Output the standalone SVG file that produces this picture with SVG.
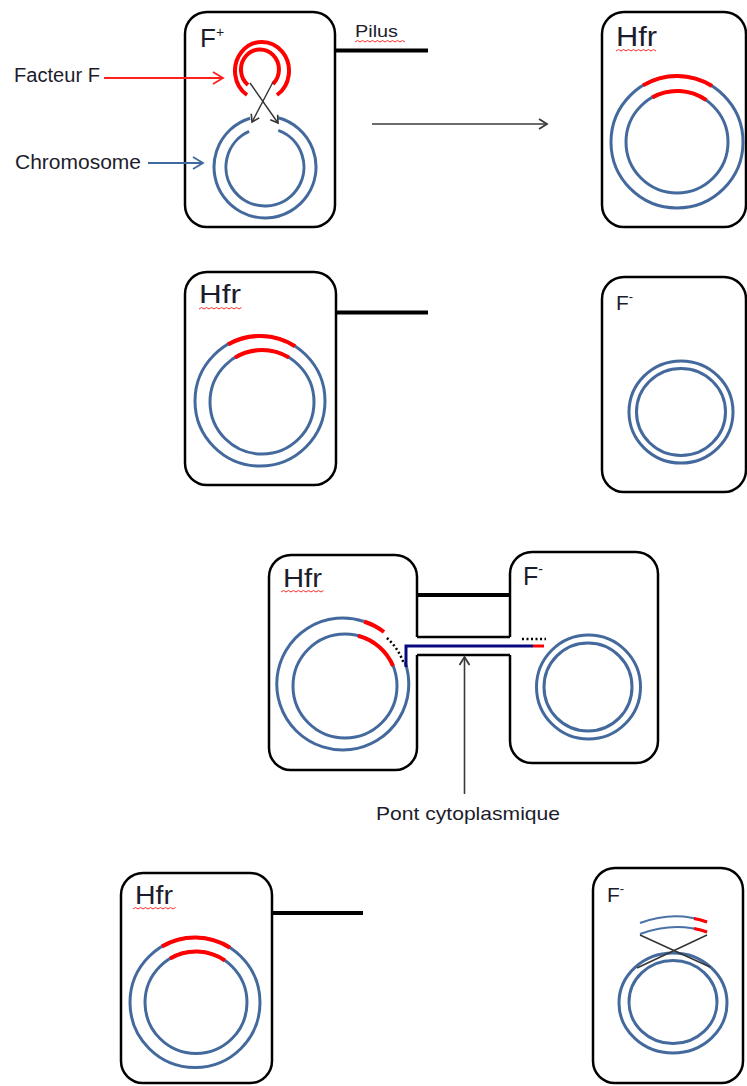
<svg xmlns="http://www.w3.org/2000/svg" width="747" height="1086" viewBox="0 0 747 1086">
  <defs>
    <style>
      .cell { fill: #ffffff; stroke: #000000; stroke-width: 2.5; }
      .edge { fill: none; stroke: #000000; stroke-width: 2.5; stroke-linejoin: round; }
      .pilus { stroke: #000000; stroke-width: 4; }
      .dna { fill: none; stroke: #44699d; stroke-width: 3; }
      .dna-thin { fill: none; stroke: #4a72a6; stroke-width: 2; }
      .fseg { fill: none; stroke: #ff0000; stroke-width: 4; }
      .fseg-thin { fill: none; stroke: #ff0000; stroke-width: 3; }
      .squiggle { fill: none; stroke: #ff2a2a; stroke-width: 1; }
      .lbl { font-family: "Liberation Sans", Arial, sans-serif; fill: #1c1c2c; }
      .dots { fill: none; stroke: #000000; stroke-width: 2.5; stroke-dasharray: 2 2.5; }
      .cross { fill: none; stroke: #333333; stroke-width: 1.4; }
    </style>
    <marker id="headRed" markerUnits="userSpaceOnUse" markerWidth="12" markerHeight="14" refX="10" refY="6" orient="auto" overflow="visible">
      <path d="M0,0 L10,6 L0,12" fill="none" stroke="#ff2020" stroke-width="1.8"/>
    </marker>
    <marker id="headBlue" markerUnits="userSpaceOnUse" markerWidth="12" markerHeight="14" refX="10" refY="6" orient="auto" overflow="visible">
      <path d="M0,0 L10,6 L0,12" fill="none" stroke="#3e6aa2" stroke-width="1.8"/>
    </marker>
    <marker id="headGray" markerUnits="userSpaceOnUse" markerWidth="10" markerHeight="12" refX="8" refY="5" orient="auto" overflow="visible">
      <path d="M0,0 L8,5 L0,10" fill="none" stroke="#3a3a3a" stroke-width="1.8"/>
    </marker>
    <marker id="headDark" markerUnits="userSpaceOnUse" markerWidth="10" markerHeight="12" refX="7" refY="4.5" orient="auto" overflow="visible">
      <path d="M0,0 L7,4.5 L0,9" fill="none" stroke="#333333" stroke-width="1.6"/>
    </marker>
  </defs>

  <rect width="747" height="1086" fill="#ffffff"/>

  <!-- Row 1, left: F+ cell with F factor and chromosome -->
  <g id="cell-fplus">
    <rect class="cell" x="185" y="12" width="150" height="215" rx="22"/>
    <line class="pilus" x1="335" y1="50.5" x2="428" y2="50.5"/>
    <text class="lbl" x="200" y="47" font-size="26">F<tspan font-size="14" dy="-10">+</tspan></text>
    <text class="lbl" x="355" y="37" font-size="17" textLength="43" lengthAdjust="spacingAndGlyphs" fill="#1a1a40">Pilus</text>
    <path class="squiggle" d="M355,42 l2.5,-1.5 l2.5,1.5 l2.5,-1.5 l2.5,1.5 l2.5,-1.5 l2.5,1.5 l2.5,-1.5 l2.5,1.5 l2.5,-1.5 l2.5,1.5 l2.5,-1.5 l2.5,1.5 l2.5,-1.5 l2.5,1.5 l2.5,-1.5 l2.5,1.5 l2.5,-1.5 l2.5,1.5 l2.5,-1.5 l2.5,1.5"/>
    <!-- F factor plasmid, open at the bottom -->
    <path class="fseg" d="M247,95 A27,29 0 1 1 277,95"/>
    <path class="fseg" d="M248,85 A19,20 0 1 1 273,84"/>
    <!-- chromosome, open at the top -->
    <path class="dna" d="M278.2,117.7 A51,51 0 1 1 250.1,118.2"/>
    <path class="dna" d="M278.3,130.4 A39,39 0 1 1 249.1,131.4"/>
  </g>

  <!-- Row 1, right: Hfr cell -->
  <g id="cell-hfr-1">
    <rect class="cell" x="602" y="12" width="144" height="215" rx="22"/>
    <text class="lbl" x="616" y="46" font-size="28" textLength="41" lengthAdjust="spacingAndGlyphs">Hfr</text>
    <path class="squiggle" d="M616,51 l2.5,-1.5 l2.5,1.5 l2.5,-1.5 l2.5,1.5 l2.5,-1.5 l2.5,1.5 l2.5,-1.5 l2.5,1.5 l2.5,-1.5 l2.5,1.5 l2.5,-1.5 l2.5,1.5 l2.5,-1.5 l2.5,1.5 l2.5,-1.5 l2.5,1.5"/>
    <circle class="dna" cx="677" cy="142" r="66"/>
    <circle class="dna" cx="677" cy="142" r="51"/>
    <path class="fseg" d="M643,85.4 A66,66 0 0 1 712,86"/>
    <path class="fseg" d="M652.3,97.4 A51,51 0 0 1 706.3,100.2"/>
  </g>

  <!-- Row 2, left: Hfr cell with pilus -->
  <g id="cell-hfr-2">
    <rect class="cell" x="185" y="272" width="151" height="213" rx="22"/>
    <line class="pilus" x1="336" y1="312.5" x2="428" y2="312.5"/>
    <text class="lbl" x="199" y="303" font-size="26" textLength="42" lengthAdjust="spacingAndGlyphs">Hfr</text>
    <path class="squiggle" d="M199,309 l2.5,-1.5 l2.5,1.5 l2.5,-1.5 l2.5,1.5 l2.5,-1.5 l2.5,1.5 l2.5,-1.5 l2.5,1.5 l2.5,-1.5 l2.5,1.5 l2.5,-1.5 l2.5,1.5 l2.5,-1.5 l2.5,1.5 l2.5,-1.5 l2.5,1.5 l2.5,-1.5"/>
    <circle class="dna" cx="260" cy="401" r="65"/>
    <circle class="dna" cx="262" cy="402" r="52"/>
    <path class="fseg" d="M228,344.4 A65,65 0 0 1 295,346.3"/>
    <path class="fseg" d="M235,357.6 A52,52 0 0 1 289,357.6"/>
  </g>

  <!-- Row 2, right: F- cell -->
  <g id="cell-fminus-2">
    <rect class="cell" x="602" y="277" width="144" height="215" rx="22"/>
    <text class="lbl" x="616" y="310" font-size="21">F<tspan font-size="13" dy="-9">-</tspan></text>
    <ellipse class="dna" cx="681" cy="412" rx="52" ry="51"/>
    <ellipse class="dna" cx="681" cy="412" rx="44.5" ry="43.5"/>
  </g>

  <!-- Row 3: Hfr and F- cells joined by the cytoplasmic bridge -->
  <g id="cell-hfr-3">
    <path class="edge" d="M417,655 L417,748 A22,22 0 0 1 395,770 L291,770 A22,22 0 0 1 269,748 L269,577 A22,22 0 0 1 291,555 L395,555 A22,22 0 0 1 417,577 L417,637"/>
    <text class="lbl" x="283" y="587" font-size="26" textLength="39" lengthAdjust="spacingAndGlyphs">Hfr</text>
    <path class="squiggle" d="M281,592 l2.5,-1.5 l2.5,1.5 l2.5,-1.5 l2.5,1.5 l2.5,-1.5 l2.5,1.5 l2.5,-1.5 l2.5,1.5 l2.5,-1.5 l2.5,1.5 l2.5,-1.5 l2.5,1.5 l2.5,-1.5 l2.5,1.5 l2.5,-1.5 l2.5,1.5 l2.5,-1.5"/>
    <!-- outer strand opened: transferred end leaves through the bridge -->
    <path class="dna" d="M405,662 A66,66 0 1 1 364,621.5"/>
    <circle class="dna" cx="345" cy="686" r="52"/>
    <path class="fseg" d="M364,621.5 A66,66 0 0 1 384,632"/>
    <path class="fseg" d="M358,635.7 A52,52 0 0 1 393,666"/>
    <path class="dots" d="M387,638 A63,63 0 0 1 404,664"/>
  </g>

  <g id="bridge">
    <line class="pilus" x1="417" y1="595" x2="510" y2="595"/>
    <line class="edge" x1="417" y1="637" x2="510" y2="637"/>
    <line class="edge" x1="417" y1="655" x2="510" y2="655"/>
    <path d="M406,667 L406,646 L533,646" fill="none" stroke="#0a0a80" stroke-width="3"/>
    <line x1="533" y1="646" x2="544" y2="646" stroke="#ff0000" stroke-width="3"/>
    <line class="dots" x1="522" y1="639" x2="546" y2="639"/>
  </g>

  <g id="cell-fminus-3">
    <path class="edge" d="M510,637 L510,574 A22,22 0 0 1 532,552 L636,552 A22,22 0 0 1 658,574 L658,741 A22,22 0 0 1 636,763 L532,763 A22,22 0 0 1 510,741 L510,655"/>
    <text class="lbl" x="523" y="585" font-size="25">F<tspan font-size="14" dy="-11">-</tspan></text>
    <circle class="dna" cx="588.5" cy="687" r="52"/>
    <circle class="dna" cx="588" cy="687" r="44"/>
  </g>

  <text class="lbl" x="376" y="820" font-size="19" textLength="184" lengthAdjust="spacingAndGlyphs">Pont cytoplasmique</text>

  <!-- Row 4, left: Hfr cell with pilus -->
  <g id="cell-hfr-4">
    <rect class="cell" x="121" y="873" width="151" height="210" rx="22"/>
    <line class="pilus" x1="272" y1="913" x2="363" y2="913"/>
    <text class="lbl" x="135" y="904" font-size="25" textLength="38" lengthAdjust="spacingAndGlyphs">Hfr</text>
    <path class="squiggle" d="M133,909 l2.5,-1.5 l2.5,1.5 l2.5,-1.5 l2.5,1.5 l2.5,-1.5 l2.5,1.5 l2.5,-1.5 l2.5,1.5 l2.5,-1.5 l2.5,1.5 l2.5,-1.5 l2.5,1.5 l2.5,-1.5 l2.5,1.5 l2.5,-1.5 l2.5,1.5 l2.5,-1.5"/>
    <circle class="dna" cx="195" cy="1002.5" r="65"/>
    <circle class="dna" cx="196" cy="1002.5" r="51"/>
    <path class="fseg" d="M162,946.5 A65,65 0 0 1 230,947.7"/>
    <path class="fseg" d="M170,958.6 A51,51 0 0 1 225,960.6"/>
  </g>

  <!-- Row 4, right: F- cell recombining the received fragment -->
  <g id="cell-fminus-4">
    <rect class="cell" x="593" y="868" width="150" height="215" rx="22"/>
    <text class="lbl" x="607" y="902" font-size="21">F<tspan font-size="13" dy="-9">-</tspan></text>
    <ellipse class="dna" cx="673" cy="1003" rx="54" ry="50"/>
    <ellipse class="dna" cx="673" cy="1002" rx="44" ry="41.5"/>
    <path class="dna-thin" d="M640,923 Q675,910 707,922"/>
    <path class="dna-thin" d="M640,934 Q675,921 707,932"/>
    <path class="fseg-thin" d="M694,918.5 Q701,919.8 707,922"/>
    <path class="fseg-thin" d="M694,928.5 Q701,929.8 707,932"/>
    <line class="cross" x1="640" y1="935" x2="710" y2="967"/>
    <line class="cross" x1="707" y1="935" x2="637" y2="968"/>
  </g>

  <!-- connectors -->
  <g id="connectors">
    <line x1="104" y1="78" x2="223" y2="78" stroke="#ff2020" stroke-width="1.8" marker-end="url(#headRed)"/>
    <line x1="148" y1="163" x2="203" y2="163" stroke="#3e6aa2" stroke-width="1.8" marker-end="url(#headBlue)"/>
    <line x1="250" y1="83" x2="278" y2="123" stroke="#333333" stroke-width="1.4" marker-end="url(#headDark)"/>
    <line x1="273" y1="82" x2="252" y2="122" stroke="#333333" stroke-width="1.4" marker-end="url(#headDark)"/>
    <line x1="372" y1="124" x2="547" y2="124" stroke="#3a3a3a" stroke-width="1.6" marker-end="url(#headGray)"/>
    <line x1="464.5" y1="794" x2="464.5" y2="657" stroke="#3a3a3a" stroke-width="1.6" marker-end="url(#headGray)"/>
  </g>

  <text class="lbl" x="14" y="82" font-size="20" textLength="86" lengthAdjust="spacingAndGlyphs" fill="#ff2020">Facteur F</text>
  <text class="lbl" x="15" y="169" font-size="20" textLength="126" lengthAdjust="spacingAndGlyphs" fill="#3e6aa2">Chromosome</text>
</svg>
